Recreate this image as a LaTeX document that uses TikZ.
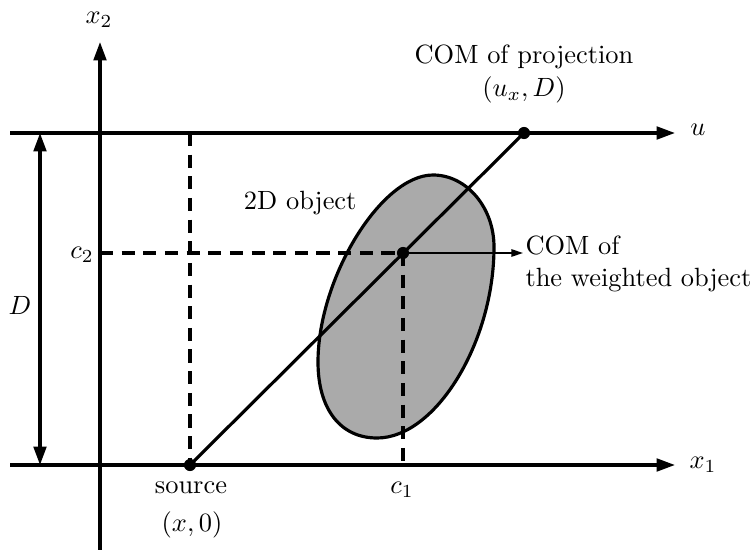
\documentclass[tikz,border=0pt]{standalone}
\usetikzlibrary{arrows.meta}
\definecolor{objgray}{RGB}{170,170,170}
\begin{document}
\begin{tikzpicture}[x=0.3788pt,y=-0.3788pt,
  axis/.style={line width=1.2pt,-{Triangle[length=7pt,width=4.8pt]}},
  dimline/.style={line width=1.2pt,{Triangle[length=7pt,width=4.8pt]}-{Triangle[length=7pt,width=4.8pt]}},
  dashline/.style={line width=1.2pt,dash pattern=on 5pt off 3.2pt},
  ray/.style={line width=1.2pt},
  thinarrow/.style={line width=0.6pt,-{Triangle[length=4.4pt,width=2.8pt]}},
  dot/.style={circle,fill=black,inner sep=0pt,minimum size=4.6pt},
  lbl/.style={inner sep=0pt},
  obj/.style={line width=1.2pt,fill=objgray}]
\useasboundingbox (0,0) rectangle (753,550);

% the 2D object
\draw[obj] (433,175) .. controls (466.5,175) and (494,207.4) .. (494,247)
  .. controls (494,342.5) and (435.5,438) .. (377,438)
  .. controls (340.4,438) and (318,409.1) .. (318,362)
  .. controls (318,277.9) and (381.3,175) .. (433,175) -- cycle;

% coordinates
\coordinate (ytail) at (100,550);
\coordinate (yhead) at (100,42);
\coordinate (x1tail) at (10,465);
\coordinate (x1head) at (675,465);
\coordinate (utail) at (10,133);
\coordinate (uhead) at (675,133);
\coordinate (dtop) at (40,133);
\coordinate (dbot) at (40,465);
\coordinate (srctop) at (190,133);
\coordinate (c2foot) at (100,253);
\coordinate (c1foot) at (403,465);
\coordinate (comtip) at (523,253);

\node[dot] (src) at (190,465) {};
\node[dot] (com) at (403,253) {};
\node[dot] (proj) at (524,133) {};

% axes
\draw[axis] (ytail) -- (yhead);
\draw[axis] (x1tail) -- (x1head);
\draw[axis] (utail) -- (uhead);
\draw[dimline] (dtop) -- (dbot);

% dashed guides
\draw[dashline] (srctop) -- (src.center);
\draw[dashline] (c2foot) -- (com.center);
\draw[dashline] (com.center) -- (c1foot);

% ray and pointer
\draw[ray] (src.center) -- (proj.center);
\draw[thinarrow] (com.center) -- (comtip);

% labels
\node[lbl] (lx2) at (99,20) {$x_2$};
\node[lbl] (lx1) at (703,465) {$x_1$};
\node[lbl] (lu) at (698,130) {$u$};
\node[lbl] (lD) at (20,305) {$D$};
\node[lbl] (lc2) at (82,255) {$c_2$};
\node[lbl] (lc1) at (402,490) {$c_1$};
\node[lbl] (lsrc) at (191,488) {source};
\node[lbl] (lsrcxy) at (192,525) {$(x,0)$};
\node[lbl,anchor=base] (lproj1) at (524,64) {COM of projection};
\node[lbl,anchor=base] (lproj2) at (524,97) {$(u_x,D)$};
\node[lbl,anchor=base west] (lcom1) at (525,254) {COM of};
\node[lbl,anchor=base west] (lcom2) at (525,286) {the weighted object};
\node[lbl,anchor=east] (lobj) at (357,203) {2D object};
\end{tikzpicture}
\end{document}
